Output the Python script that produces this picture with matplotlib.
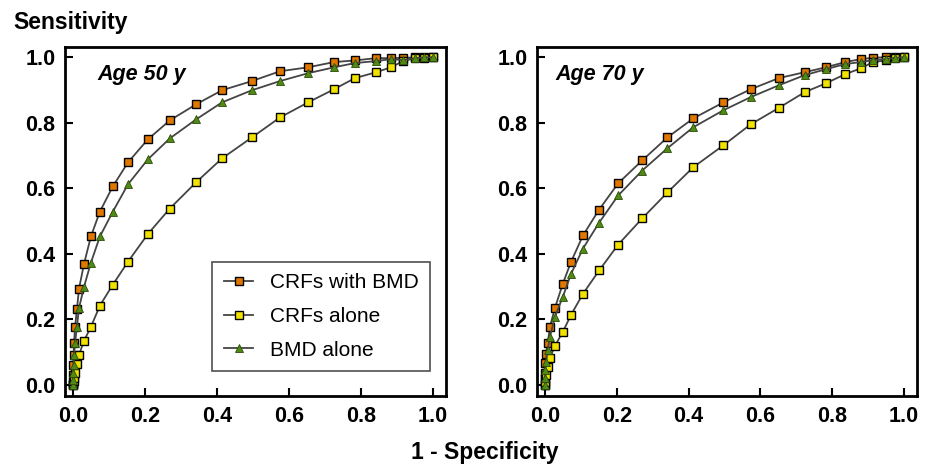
import matplotlib
matplotlib.use("Agg")
import matplotlib.pyplot as plt

plt.rcParams['font.family'] = ['Liberation Sans', 'DejaVu Sans']

# Age 50 panel
x50 = [0, 0.0005, 0.001, 0.002, 0.003, 0.006, 0.011, 0.017, 0.031, 0.05, 0.075, 0.111,
       0.153, 0.208, 0.269, 0.342, 0.414, 0.497, 0.575, 0.653, 0.725, 0.783, 0.842,
       0.883, 0.917, 0.95, 0.975, 1.0]
crf_bmd_50 = [0, 0.03, 0.06, 0.09, 0.128, 0.177, 0.23, 0.294, 0.37, 0.453, 0.529, 0.606,
              0.679, 0.749, 0.807, 0.856, 0.899, 0.927, 0.957, 0.969, 0.985, 0.99, 0.997,
              0.997, 0.998, 0.999, 1.0, 1.0]
crf_50 = [0, 0.003, 0.006, 0.012, 0.02, 0.037, 0.064, 0.092, 0.135, 0.177, 0.242, 0.306,
          0.376, 0.46, 0.538, 0.618, 0.691, 0.755, 0.816, 0.862, 0.902, 0.936, 0.954,
          0.969, 0.988, 0.997, 0.998, 1.0]
bmd_50 = [0, 0.015, 0.035, 0.06, 0.09, 0.128, 0.177, 0.235, 0.3, 0.373, 0.453, 0.529,
          0.612, 0.688, 0.752, 0.81, 0.862, 0.899, 0.927, 0.951, 0.969, 0.982, 0.988,
          0.994, 0.991, 0.997, 0.999, 1.0]

# Age 70 panel
x70 = [0, 0.0005, 0.001, 0.003, 0.008, 0.014, 0.028, 0.05, 0.073, 0.106, 0.151, 0.204,
       0.271, 0.341, 0.413, 0.497, 0.573, 0.651, 0.723, 0.782, 0.836, 0.88, 0.913,
       0.95, 0.975, 1.0]
crf_bmd_70 = [0, 0.035, 0.067, 0.095, 0.128, 0.177, 0.235, 0.309, 0.376, 0.456, 0.535,
              0.615, 0.685, 0.755, 0.813, 0.862, 0.902, 0.936, 0.954, 0.969, 0.985,
              0.994, 0.998, 1.0, 1.0, 1.0]
crf_70 = [0, 0.01, 0.02, 0.03, 0.055, 0.083, 0.119, 0.162, 0.214, 0.278, 0.349, 0.428,
          0.508, 0.587, 0.664, 0.731, 0.795, 0.845, 0.893, 0.92, 0.948, 0.966, 0.985,
          0.99, 0.997, 1.0]
bmd_70 = [0, 0.02, 0.045, 0.07, 0.107, 0.147, 0.208, 0.269, 0.339, 0.416, 0.495, 0.578,
          0.654, 0.722, 0.786, 0.838, 0.878, 0.914, 0.945, 0.963, 0.979, 0.985, 0.991,
          0.994, 0.998, 1.0]

ticks = [0.0, 0.2, 0.4, 0.6, 0.8, 1.0]
tick_labels = ['0.0', '0.2', '0.4', '0.6', '0.8', '1.0']

line_col = '#444444'

fig = plt.figure(figsize=(9.31, 4.65), dpi=100)
ax1 = fig.add_axes([65 / 931, 1 - 396 / 465, 381 / 931, 349 / 465])
ax2 = fig.add_axes([537 / 931, 1 - 396 / 465, 380 / 931, 349 / 465])


def draw(ax, x, a, b, c, label, label_x):
    ax.plot(x, a, '-s', color=line_col, lw=1.3, ms=5.5, mfc='#e07800', mec='black',
            mew=1.0, label='CRFs with BMD')
    ax.plot(x, b, '-s', color=line_col, lw=1.3, ms=5.5, mfc='#f2e200', mec='black',
            mew=1.0, label='CRFs alone')
    ax.plot(x, c, '-^', color=line_col, lw=1.3, ms=5.5, mfc='#4f8a16', mec='#2c4a08',
            mew=0.6, label='BMD alone')
    ax.set_xlim(-0.022, 1.036)
    ax.set_ylim(-0.034, 1.031)
    ax.set_xticks(ticks)
    ax.set_xticklabels(tick_labels)
    ax.set_yticks(ticks)
    ax.set_yticklabels(tick_labels)
    ax.tick_params(direction='in', length=6, width=1.5, pad=7, labelsize=15.5)
    for lab in ax.get_xticklabels() + ax.get_yticklabels():
        lab.set_fontweight('bold')
    for sp in ax.spines.values():
        sp.set_linewidth(2)
    ax.text(label_x, 0.948, label, fontsize=15.5, fontweight='bold', style='italic',
            va='center', ha='left')


draw(ax1, x50, crf_bmd_50, crf_50, bmd_50, 'Age 50 y', 0.067)
draw(ax2, x70, crf_bmd_70, crf_70, bmd_70, 'Age 70 y', 0.028)

leg = ax1.legend(loc='upper right', bbox_to_anchor=(0.958, 0.384), borderaxespad=0,
                 fontsize=15, frameon=True, fancybox=False, edgecolor='#222222',
                 handlelength=1.4, borderpad=0.55, labelspacing=0.7, handletextpad=0.8)
leg.get_frame().set_linewidth(1.2)

fig.text(13 / 931, 1 - 22 / 465, 'Sensitivity', fontsize=16.5, fontweight='bold',
         va='center', ha='left')
fig.text(485 / 931, 1 - 452 / 465, '1 - Specificity', fontsize=16.5, fontweight='bold',
         va='center', ha='center')

fig.savefig('out.png', dpi=100)
